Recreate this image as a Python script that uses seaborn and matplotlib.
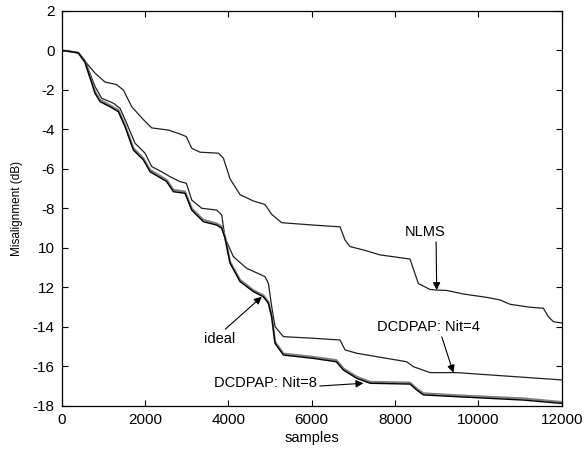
import matplotlib
matplotlib.use("Agg")
import matplotlib.pyplot as plt
import seaborn as sns
import pandas as pd

# ---------------- data ----------------
nlms_x = [0, 200, 400, 560, 800, 1040, 1310, 1480, 1680, 1960, 2160, 2560, 2840, 2990, 3120,
          3320, 3760, 3880, 4040, 4280, 4600, 4880, 5040, 5280, 6040, 6680, 6800, 6920, 7240,
          7640, 8360, 8420, 8560, 8840, 9000, 9240, 9640, 10200, 10520, 10760, 11240, 11560,
          11680, 11800, 12000]
nlms_y = [0, -0.05, -0.12, -0.55, -1.15, -1.6, -1.72, -2.0, -2.85, -3.5, -3.92, -4.03, -4.23,
          -4.36, -4.95, -5.15, -5.2, -5.45, -6.5, -7.3, -7.62, -7.8, -8.3, -8.72, -8.84, -8.93,
          -9.6, -9.93, -10.1, -10.35, -10.56, -10.94, -11.8, -12.1, -12.13, -12.15, -12.33,
          -12.5, -12.63, -12.85, -13.0, -13.05, -13.48, -13.73, -13.8]

nit4_x = [0, 200, 400, 560, 800, 960, 1240, 1400, 1560, 1760, 2000, 2160, 2400, 2600, 2840,
          2990, 3120, 3360, 3720, 3840, 3920, 4120, 4440, 4880, 4960, 5040, 5120, 5320, 6040,
          6680, 6800, 7080, 8280, 8440, 8840, 9480, 12000]
nit4_y = [0, -0.05, -0.12, -0.52, -1.83, -2.42, -2.67, -2.93, -3.69, -4.7, -5.2, -5.88, -6.14,
          -6.39, -6.64, -6.72, -7.57, -7.99, -8.08, -8.33, -9.5, -10.44, -11.03, -11.45, -11.79,
          -12.97, -13.98, -14.49, -14.57, -14.66, -15.16, -15.33, -15.76, -16.01, -16.31,
          -16.31, -16.68]

ideal_x = [0, 200, 400, 560, 800, 920, 1160, 1360, 1520, 1720, 1960, 2120, 2320, 2520, 2680,
           2960, 3120, 3400, 3720, 3840, 3920, 4040, 4280, 4600, 4840, 4960, 5040, 5120, 5320,
           6040, 6590, 6760, 7080, 7400, 8360, 8520, 8680, 9480, 11080, 12000]
ideal_y = [0, -0.05, -0.12, -0.6, -2.17, -2.59, -2.85, -3.1, -3.86, -5.04, -5.54, -6.14, -6.39,
           -6.64, -7.15, -7.23, -8.08, -8.67, -8.84, -9.0, -9.5, -10.77, -11.7, -12.21, -12.47,
           -12.8, -13.48, -14.83, -15.42, -15.59, -15.76, -16.18, -16.6, -16.85, -16.89, -17.19,
           -17.44, -17.53, -17.7, -17.87]

nit8_x = ideal_x
nit8_y = [0, -0.05, -0.12, -0.58, -2.1, -2.5, -2.78, -3.02, -3.78, -4.95, -5.46, -6.05, -6.3,
          -6.56, -7.06, -7.15, -8.0, -8.58, -8.76, -8.92, -9.45, -10.7, -11.62, -12.14, -12.4,
          -12.74, -13.42, -14.75, -15.35, -15.52, -15.68, -16.1, -16.52, -16.78, -16.82, -17.12,
          -17.36, -17.46, -17.62, -17.8]

x_ticks = [0, 2000, 4000, 6000, 8000, 10000, 12000]
y_ticks = [2, 0, -2, -4, -6, -8, -10, -12, -14, -16, -18]
y_tick_labels = ["2", "0", "-2", "-4", "-6", "-8", "10", "12", "-14", "-16", "-18"]

# ---------------- plot ----------------
sns.set_theme(style="white")
plt.rcParams["font.family"] = ["Liberation Sans", "DejaVu Sans"]
plt.rcParams["axes.unicode_minus"] = False
plt.rcParams["text.color"] = "black"
plt.rcParams["axes.labelcolor"] = "black"

fig = plt.figure(figsize=(5.84, 4.5), dpi=100)
ax = fig.add_axes([0.1057, 0.0978, 0.8561, 0.8778])

def df_of(x, y):
    return pd.DataFrame({"samples": x, "mis": y})

sns.lineplot(data=df_of(nlms_x, nlms_y), x="samples", y="mis", ax=ax,
             color="#202020", lw=0.9, estimator=None, sort=False)
sns.lineplot(data=df_of(nit4_x, nit4_y), x="samples", y="mis", ax=ax,
             color="#202020", lw=0.9, estimator=None, sort=False)
sns.lineplot(data=df_of(nit8_x, nit8_y), x="samples", y="mis", ax=ax,
             color="#808080", lw=1.6, estimator=None, sort=False)
sns.lineplot(data=df_of(ideal_x, ideal_y), x="samples", y="mis", ax=ax,
             color="black", lw=1.0, estimator=None, sort=False)

ax.set_xlim(0, 12000)
ax.set_ylim(-18, 2)
ax.set_xticks(x_ticks)
ax.set_xticklabels([str(t) for t in x_ticks])
ax.set_yticks(y_ticks)
ax.set_yticklabels(y_tick_labels)
ax.tick_params(direction="in", length=4.5, width=0.8, top=True, right=True,
               labelsize=11, colors="black", pad=5)
ax.tick_params(axis="x", which="both", bottom=True)
ax.tick_params(axis="y", which="both", left=True)
for s in ax.spines.values():
    s.set_color("black")
    s.set_linewidth(0.9)
    s.set_visible(True)

ax.set_xlabel("samples", fontsize=10.5, color="black")
ax.set_ylabel("Misalignment (dB)", fontsize=8.5, color="black")
ax.xaxis.set_label_coords(0.5, -0.063)
ax.yaxis.set_label_coords(-0.078, 0.5)

arrow = dict(arrowstyle="-|>", color="black", lw=0.8, mutation_scale=11,
             shrinkA=0, shrinkB=0)
ax.annotate("NLMS", xy=(9000, -12.13), xytext=(8720, -9.17), fontsize=10.5,
            ha="center", va="center", arrowprops=dict(arrow, relpos=(0.77, 0.0)))
ax.annotate("DCDPAP: Nit=4", xy=(9400, -16.31), xytext=(8800, -13.98), fontsize=10.5,
            ha="center", va="center", arrowprops=dict(arrow, relpos=(0.62, 0.0)))
ax.annotate("ideal", xy=(4800, -12.47), xytext=(3800, -14.63), fontsize=10.5,
            ha="center", va="center", arrowprops=dict(arrow, relpos=(0.55, 1.0)))
ax.annotate("DCDPAP: Nit=8", xy=(7240, -16.85), xytext=(4880, -16.85), fontsize=10.5,
            ha="center", va="center", arrowprops=dict(arrow, relpos=(1.02, 0.3)))

fig.savefig("out.png", dpi=100)
